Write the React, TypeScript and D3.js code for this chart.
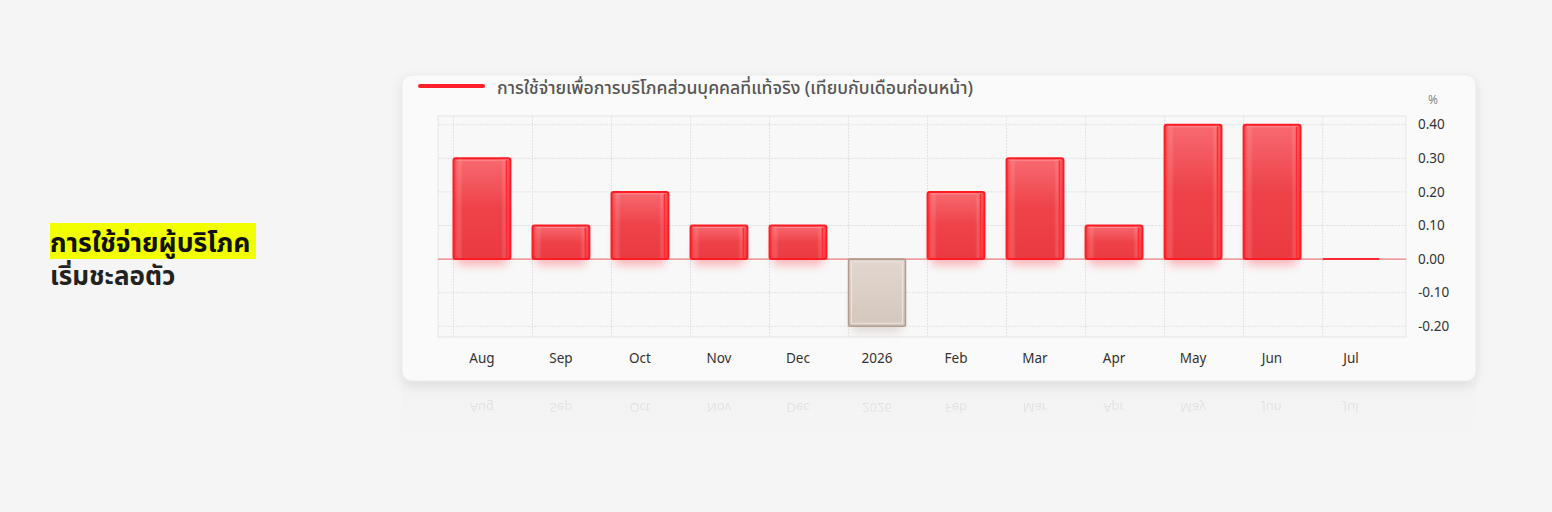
import React from "react";
import * as d3 from "d3";

const categories = ["Aug", "Sep", "Oct", "Nov", "Dec", "2026", "Feb", "Mar", "Apr", "May", "Jun", "Jul"];
const values = [0.3, 0.1, 0.2, 0.1, 0.1, -0.2, 0.2, 0.3, 0.1, 0.4, 0.4, 0.0];
const yTicks = [0.4, 0.3, 0.2, 0.1, 0.0, -0.1, -0.2];
const legendLabel = "การใช้จ่ายเพื่อการบริโภคส่วนบุคคลที่แท้จริง (เทียบกับเดือนก่อนหน้า)";
const titleLine1 = "การใช้จ่ายผู้บริโภค";
const titleLine2 = "เริ่มชะลอตัว";
const unitLabel = "%";

const W = 1552;
const H = 512;
const FONT = "'Noto Sans Thai', 'Noto Sans', 'Open Sans', sans-serif";

export default function App() {
  const plotLeft = 438;
  const plotRight = 1406;
  const plotTop = 116;
  const plotBottom = 337;

  const x = d3
    .scaleBand<string>()
    .domain(categories)
    .range([453.5, 1379.5])
    .paddingInner(0.28)
    .paddingOuter(0);
  const y = d3.scaleLinear().domain([-0.232, 0.426]).range([plotBottom, plotTop]);
  const bw = x.bandwidth();
  const y0 = y(0);

  return (
    <div style={{ position: "fixed", left: 0, top: 0, width: W, height: H }}>
      <svg width={W} height={H} style={{ display: "block" }}>
        <defs>
          <linearGradient id="redFill" x1="0" y1="0" x2="0" y2="1">
            <stop offset="0" stopColor="#f76a70" />
            <stop offset="0.5" stopColor="#ee4249" />
            <stop offset="1" stopColor="#ea3a41" />
          </linearGradient>
          <linearGradient id="redSheen" x1="0" y1="0" x2="1" y2="0">
            <stop offset="0" stopColor="#ff2a2a" stopOpacity="0.55" />
            <stop offset="0.15" stopColor="#ffffff" stopOpacity="0.0" />
            <stop offset="0.85" stopColor="#ffffff" stopOpacity="0.0" />
            <stop offset="1" stopColor="#ff2a2a" stopOpacity="0.55" />
          </linearGradient>
          <linearGradient id="negFill" x1="0" y1="0" x2="0" y2="1">
            <stop offset="0" stopColor="#e2d7cf" />
            <stop offset="1" stopColor="#d4c7bd" />
          </linearGradient>
          <filter id="panelShadow" x="-5%" y="-10%" width="110%" height="130%">
            <feDropShadow dx="0" dy="4" stdDeviation="6" floodColor="#000" floodOpacity="0.10" />
          </filter>
          <filter id="glow" x="-30%" y="-30%" width="160%" height="180%">
            <feGaussianBlur stdDeviation="5" />
          </filter>
          <linearGradient id="reflFade" x1="0" y1="0" x2="0" y2="1">
            <stop offset="0" stopColor="#fff" stopOpacity="1" />
            <stop offset="1" stopColor="#fff" stopOpacity="0" />
          </linearGradient>
          <mask id="reflMask">
            <rect x={350} y={382} width={1180} height={60} fill="url(#reflFade)" />
          </mask>
        </defs>

        <rect x={0} y={0} width={W} height={H} fill="#f5f5f5" />

        {/* Left title */}
        <rect x={50} y={223} width={206} height={36} fill="#f2ff00" />
        <text x={50} y={252} fontFamily={FONT} fontSize={26.5} fontWeight={700} fill="#111">
          {titleLine1}
        </text>
        <text x={50} y={285} fontFamily={FONT} fontSize={26} fontWeight={700} fill="#222">
          {titleLine2}
        </text>

        {/* reflection */}
        <g mask="url(#reflMask)" opacity={0.16}>
          <rect x={402} y={382} width={1074} height={50} fill="#e8e8e8" />
          <g transform={`translate(0, ${2 * 383}) scale(1,-1)`}>
            {categories.map((c) => (
              <text
                key={"r" + c}
                x={(x(c) as number) + bw / 2}
                y={363}
                textAnchor="middle"
                fontFamily={FONT}
                fontSize={13}
                fill="#333"
              >
                {c}
              </text>
            ))}
          </g>
        </g>

        {/* Panel */}
        <rect x={402} y={75} width={1074} height={306} rx={10} fill="#fafafa" filter="url(#panelShadow)" />
        <rect x={402} y={75} width={1074} height={306} rx={10} fill="none" stroke="#ececec" />

        {/* Legend */}
        <line x1={420} y1={86} x2={483} y2={86} stroke="#ff1f2a" strokeWidth={4} strokeLinecap="round" />
        <text x={497} y={94} fontFamily={FONT} fontSize={17.6} fontWeight={500} fill="#555">
          {legendLabel}
        </text>
        <text x={1433} y={104} textAnchor="middle" fontFamily={FONT} fontSize={12} fill="#888">
          {unitLabel}
        </text>

        {/* Plot area */}
        <rect x={plotLeft} y={plotTop} width={plotRight - plotLeft} height={plotBottom - plotTop} fill="#f8f8f8" stroke="#e6e6e6" />
        {yTicks.map((t) => (
          <line key={"h" + t} x1={plotLeft} x2={plotRight} y1={y(t)} y2={y(t)} stroke="#e2e2e2" strokeDasharray="2,1" />
        ))}
        {categories.map((c) => (
          <line
            key={"v" + c}
            x1={x(c) as number}
            x2={x(c) as number}
            y1={plotTop}
            y2={plotBottom}
            stroke="#e2e2e2"
            strokeDasharray="2,1"
          />
        ))}

        {/* bar glows */}
        {categories.map((c, i) => {
          const v = values[i];
          const bx = x(c) as number;
          const top = v >= 0 ? y(v) : y0;
          const h = Math.abs(y(v) - y0);
          if (h < 1) return null;
          return (
            <rect
              key={"g" + c}
              x={bx + 4}
              y={top + h * 0.5}
              width={bw - 8}
              height={h * 0.5 + 6}
              fill={v >= 0 ? "#ff3040" : "#a89486"}
              opacity={v >= 0 ? 0.35 : 0.3}
              filter="url(#glow)"
            />
          );
        })}

        {/* zero line */}
        <line x1={plotLeft} x2={plotRight} y1={y0} y2={y0} stroke="#f08080" strokeWidth={1.2} />

        {/* bars */}
        {categories.map((c, i) => {
          const v = values[i];
          const bx = x(c) as number;
          const top = v >= 0 ? y(v) : y0;
          const h = Math.max(Math.abs(y(v) - y0), 0);
          if (v === 0) {
            return (
              <rect key={"b" + c} x={bx} y={y0 - 1} width={bw} height={2} fill="#ff2a35" rx={1} />
            );
          }
          if (v < 0) {
            return (
              <g key={"b" + c}>
                <rect x={bx} y={top} width={bw} height={h} fill="url(#negFill)" stroke="#b09d90" strokeWidth={1.6} rx={1.5} />
                <rect x={bx + 3} y={top + 3} width={bw - 6} height={h - 6} fill="none" stroke="#ece4de" strokeWidth={1} />
              </g>
            );
          }
          return (
            <g key={"b" + c}>
              <rect x={bx} y={top} width={bw} height={h} fill="url(#redFill)" stroke="#ff1a24" strokeWidth={2} rx={2} />
              <rect x={bx + 1} y={top + 1} width={bw - 2} height={h - 2} fill="url(#redSheen)" />
              <line x1={bx + 3} x2={bx + bw - 3} y1={top + 2} y2={top + 2} stroke="#ff8a8f" strokeWidth={1} />
              <line x1={bx + bw - 4} x2={bx + bw - 4} y1={top + 2} y2={top + h - 1} stroke="#ff2a33" strokeWidth={1.5} />
            </g>
          );
        })}

        {/* y ticks */}
        {yTicks.map((t) => (
          <text
            key={"yl" + t}
            x={1418}
            y={y(t)}
            dy="0.35em"
            fontFamily={FONT}
            fontSize={13.5}
            fill="#333"
          >
            {d3.format(".2f")(t)}
          </text>
        ))}

        {/* x labels */}
        {categories.map((c) => (
          <text
            key={"xl" + c}
            x={(x(c) as number) + bw / 2}
            y={363}
            textAnchor="middle"
            fontFamily={FONT}
            fontSize={13.5}
            fill="#333"
          >
            {c}
          </text>
        ))}
      </svg>
    </div>
  );
}
